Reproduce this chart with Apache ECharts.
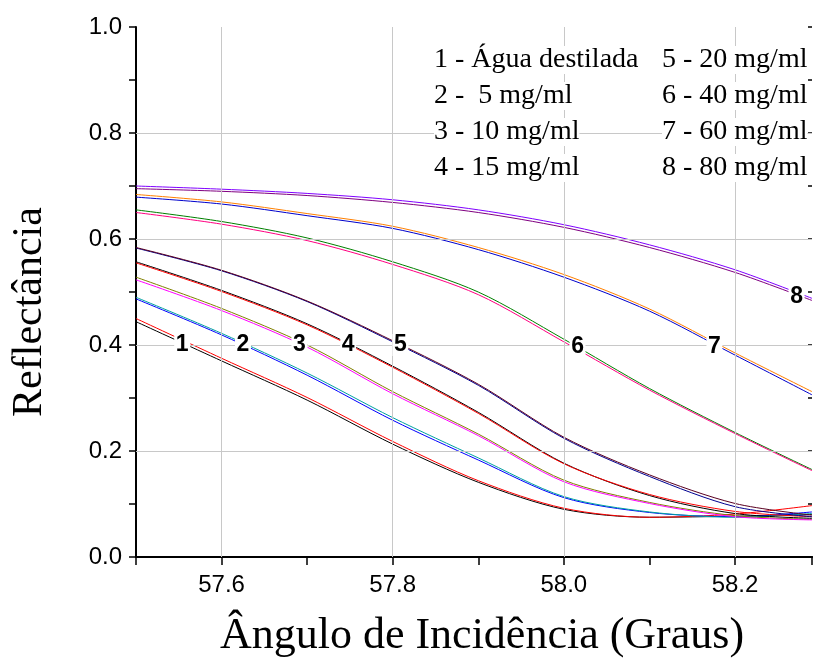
<!DOCTYPE html>
<html>
<head>
<meta charset="utf-8">
<script src="https://cdn.jsdelivr.net/npm/echarts@6/dist/echarts.min.js"></script>
<style>
  html, body { margin: 0; padding: 0; background: #fff; }
  #main { width: 815px; height: 658px; }
</style>
</head>
<body>
<div id="main"></div>
<script>
// angulo (graus)
var xs = [57.5, 57.6, 57.7, 57.8, 57.9, 58.0, 58.1, 58.2, 58.29];

// reflectancia, duas medidas por concentracao
var c1a = [0.444, 0.370, 0.296, 0.213, 0.141, 0.090, 0.075, 0.077, 0.080];
var c1b = [0.450, 0.375, 0.301, 0.218, 0.144, 0.092, 0.075, 0.081, 0.097];
var c2a = [0.487, 0.419, 0.343, 0.258, 0.183, 0.112, 0.084, 0.076, 0.085];
var c2b = [0.490, 0.422, 0.347, 0.263, 0.187, 0.114, 0.085, 0.075, 0.082];
var c3a = [0.528, 0.469, 0.400, 0.312, 0.232, 0.145, 0.103, 0.078, 0.071];
var c3b = [0.523, 0.465, 0.396, 0.308, 0.229, 0.142, 0.101, 0.076, 0.070];
var c4a = [0.557, 0.503, 0.440, 0.360, 0.273, 0.177, 0.116, 0.082, 0.073];
var c4b = [0.555, 0.501, 0.438, 0.358, 0.271, 0.176, 0.118, 0.086, 0.076];
var c5a = [0.583, 0.540, 0.482, 0.406, 0.324, 0.224, 0.152, 0.095, 0.076];
var c5b = [0.584, 0.541, 0.483, 0.408, 0.326, 0.226, 0.155, 0.101, 0.079];
var c6a = [0.655, 0.633, 0.602, 0.557, 0.500, 0.411, 0.318, 0.235, 0.165];
var c6b = [0.650, 0.628, 0.597, 0.552, 0.495, 0.406, 0.315, 0.233, 0.163];
var c7a = [0.684, 0.670, 0.648, 0.624, 0.584, 0.533, 0.468, 0.385, 0.312];
var c7b = [0.679, 0.666, 0.644, 0.620, 0.580, 0.528, 0.464, 0.381, 0.306];
var c8a = [0.700, 0.694, 0.686, 0.674, 0.655, 0.627, 0.589, 0.542, 0.488];
var c8b = [0.695, 0.690, 0.682, 0.669, 0.650, 0.622, 0.584, 0.537, 0.484];

var curves = [c1a, c1b, c2a, c2b, c3a, c3b, c4a, c4b, c5a, c5b, c6a, c6b, c7a, c7b, c8a, c8b];
var colors = ['#000000', '#ff0000', '#0000ff', '#00a0a0', '#808000', '#ff00ff', '#000000', '#ff0000',
              '#000090', '#5a0020', '#008000', '#ff0080', '#ff8000', '#0000cc', '#8000ff', '#800080'];

// numeros sobre as curvas
var tagNames = ['1', '2', '3', '4', '5', '6', '7', '8'];
var tagX = [57.554, 57.625, 57.691, 57.748, 57.809, 58.016, 58.176, 58.272];
var tagY = [0.400, 0.400, 0.400, 0.400, 0.400, 0.397, 0.397, 0.491];

var gridX = [57.6, 57.8, 58.0, 58.2];
var gridY = [0.2, 0.4, 0.6, 0.8];

var legendLeft = ['1 - Água destilada', '2 -  5 mg/ml', '3 - 10 mg/ml', '4 - 15 mg/ml'];
var legendRight = ['5 - 20 mg/ml', '6 - 40 mg/ml', '7 - 60 mg/ml', '8 - 80 mg/ml'];

var chart = echarts.init(document.getElementById('main'));

function pts(ys) {
    return xs.map(function (x, i) { return [x, ys[i]]; });
}
function evenLabel(v) {
    return Math.round(v * 10) % 2 === 0 ? v.toFixed(1) : '';
}

var series = [{
    type: 'line',
    data: [],
    z: 1,
    markLine: {
        silent: true,
        symbol: 'none',
        label: { show: false },
        lineStyle: { color: '#c8c8c8', width: 1, type: 'solid' },
        data: gridX.map(function (v) { return { xAxis: v }; })
            .concat(gridY.map(function (v) { return { yAxis: v }; }))
    }
}];

curves.forEach(function (c, i) {
    series.push({
        type: 'line',
        data: pts(c),
        smooth: 0.3,
        showSymbol: false,
        z: 2,
        lineStyle: { color: colors[i], width: 1 }
    });
});

series.push({
    type: 'line',
    data: [],
    z: 5,
    markPoint: {
        silent: true,
        symbol: 'rect',
        symbolSize: [16, 22],
        itemStyle: { color: '#fff' },
        label: {
            show: true,
            position: 'inside',
            formatter: '{b}',
            fontFamily: 'Liberation Sans',
            fontWeight: 'bold',
            fontSize: 23,
            color: '#000'
        },
        data: tagNames.map(function (n, i) { return { name: n, coord: [tagX[i], tagY[i]] }; })
    }
});

var graphics = [];
legendLeft.forEach(function (t, i) {
    graphics.push({ type: 'text', left: 434, top: 46 + i * 36, z: 10,
        style: { text: t, font: '28px "Liberation Serif"', fill: '#000', backgroundColor: '#fff' } });
});
legendRight.forEach(function (t, i) {
    graphics.push({ type: 'text', left: 662, top: 46 + i * 36, z: 10,
        style: { text: t, font: '28px "Liberation Serif"', fill: '#000', backgroundColor: '#fff' } });
});
graphics.push({ type: 'text', x: 30, y: 312, rotation: Math.PI / 2, z: 10,
    style: { text: 'Reflectância', font: '42px "Liberation Serif"', fill: '#000',
             textAlign: 'center', textVerticalAlign: 'middle' } });
graphics.push({ type: 'text', x: 482, y: 636, z: 10,
    style: { text: 'Ângulo de Incidência (Graus)', font: '44px "Liberation Serif"', fill: '#000',
             textAlign: 'center', textVerticalAlign: 'middle' } });

var option = {
    animation: false,
    backgroundColor: '#fff',
    grid: { left: 136, right: 0, top: 27, bottom: 101 },
    xAxis: [{
        type: 'value', position: 'bottom', min: 57.5, max: 58.29, interval: 0.1,
        axisLine: { lineStyle: { color: '#000', width: 2 } },
        axisTick: { length: 7, lineStyle: { color: '#000', width: 1.5 } },
        axisLabel: { formatter: evenLabel, margin: 16, color: '#000', fontSize: 24, fontFamily: 'Liberation Sans' },
        splitLine: { show: false }
    }, {
        type: 'value', position: 'top', min: 57.5, max: 58.29, interval: 0.1,
        axisLine: { lineStyle: { color: '#000', width: 2 } },
        axisTick: { inside: true, length: 8, lineStyle: { color: '#000', width: 1.5 } },
        axisLabel: { show: false },
        splitLine: { show: false }
    }],
    yAxis: [{
        type: 'value', position: 'left', min: 0, max: 1, interval: 0.1,
        axisLine: { lineStyle: { color: '#000', width: 2 } },
        axisTick: { length: 7, lineStyle: { color: '#000', width: 1.5 } },
        axisLabel: { formatter: evenLabel, margin: 14, color: '#000', fontSize: 24, fontFamily: 'Liberation Sans' },
        splitLine: { show: false }
    }, {
        type: 'value', position: 'right', min: 0, max: 1, interval: 0.1,
        axisLine: { show: false },
        axisTick: { show: true, inside: true, length: 4, lineStyle: { color: '#000', width: 1.5 } },
        axisLabel: { show: false },
        splitLine: { show: false }
    }],
    graphic: graphics,
    series: series
};
chart.setOption(option);
</script>
</body>
</html>
